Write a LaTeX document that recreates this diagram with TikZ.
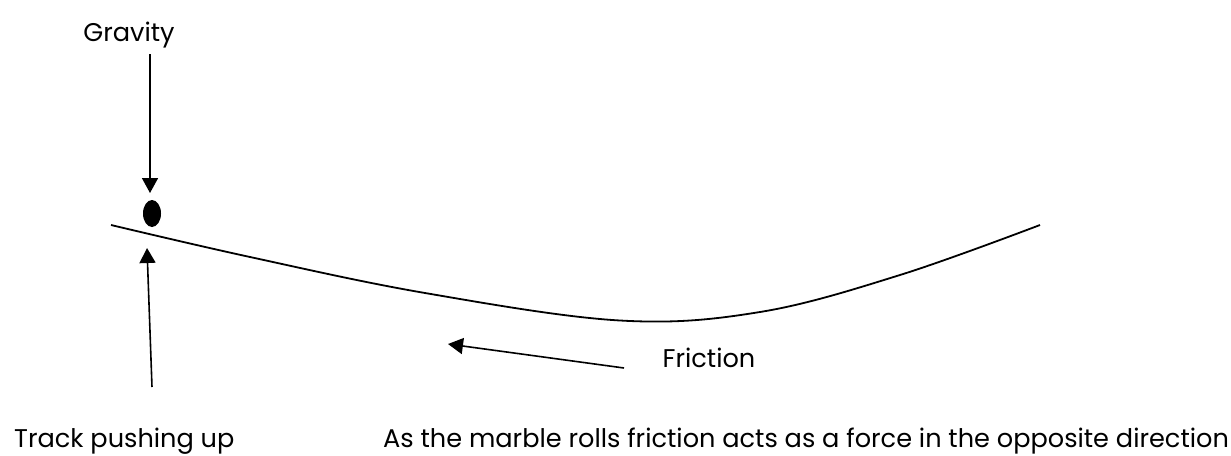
\documentclass[tikz,border=0pt]{standalone}
\usepackage{fontspec}
\setmainfont{Poppins}
\usetikzlibrary{arrows.meta,shapes.geometric}
\tikzset{
  lbl/.style={anchor=base west, inner sep=0pt, font=\fontsize{25.6}{30}\selectfont},
  force/.style={line width=1.6pt, -{Triangle[length=15pt,width=16pt]}},
  track/.style={line width=1.8pt},
}
\begin{document}
\begin{tikzpicture}[x=1pt,y=-1pt]
\useasboundingbox (0,0) rectangle (1231,455);
% texts
\node[lbl, anchor=base] (grav) at (129,41) {Gravity};
\node[lbl] (push) at (14,447) {Track pushing up};
\node[lbl] (expl) at (383,447) {As the marble rolls friction acts as a force in the opposite direction};
\node[lbl, anchor=base] (fric) at (709,367) {Friction};
% marble
\node[ellipse, fill=black, inner sep=0pt, minimum width=18pt, minimum height=27pt] (marble) at (152,213.5) {};
% track
\draw[track] plot[smooth, tension=0.6] coordinates {(111,225) (250,257) (425,293) (620,320.5) (760,312) (900,275) (1040,225)};
% force arrows
\coordinate (gtail) at (150,54);
\coordinate (gtip) at (150,193);
\coordinate (ptail) at (152,387);
\coordinate (ptip) at (147,248);
\coordinate (ftail) at (624,368);
\coordinate (ftip) at (448,344);
\draw[force] (gtail) -- (gtip);
\draw[force] (ptail) -- (ptip);
\draw[force] (ftail) -- (ftip);
\end{tikzpicture}
\end{document}
